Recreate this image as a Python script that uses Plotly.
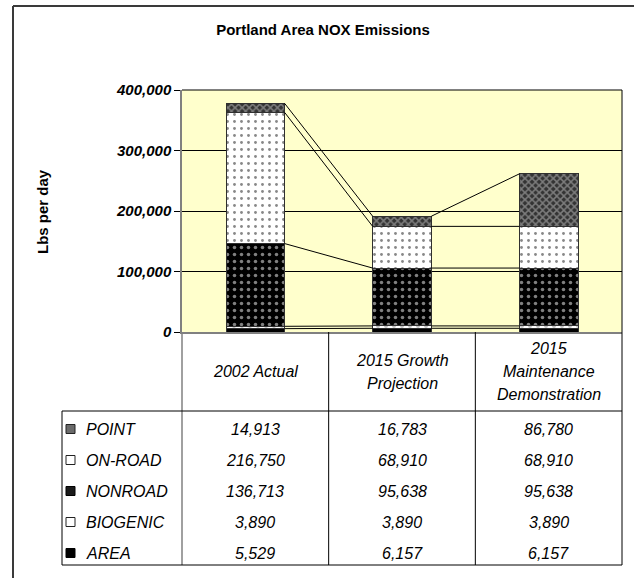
import plotly.graph_objects as go
import numpy as np

# ---- data ----
categories = ["2002 Actual", "2015 Growth<br>Projection", "2015<br>Maintenance<br>Demonstration"]
series_names = ["AREA", "BIOGENIC", "NONROAD", "ON-ROAD", "POINT"]  # bottom -> top
area = [5529, 6157, 6157]
biogenic = [3890, 3890, 3890]
nonroad = [136713, 95638, 95638]
onroad = [216750, 68910, 68910]
point = [14913, 16783, 86780]
y_ticks = [0, 100000, 200000, 300000, 400000]

series_values = [area, biogenic, nonroad, onroad, point]

# ---- layout geometry (pixels) ----
W, H = 634, 578
L, R, T, B = 182, 622, 90, 332
FONT = "Arial, Liberation Sans, Helvetica, sans-serif"


def px(x):
    return (x - L) / (R - L)


def py(y):
    return (B - y) / (B - T)


styles = {
    "AREA": dict(shape=".", bgcolor="#000000", fgcolor="#555555", size=8, solidity=0.15),
    "BIOGENIC": dict(shape=".", bgcolor="#ffffff", fgcolor="#888888", size=8, solidity=0.2),
    "NONROAD": dict(shape=".", bgcolor="#000000", fgcolor="#ffffff", size=7, solidity=0.2),
    "ON-ROAD": dict(shape=".", bgcolor="#ffffff", fgcolor="#111111", size=7, solidity=0.13),
    "POINT": dict(shape="x", bgcolor="#333333", fgcolor="#c8c8c8", size=5, solidity=0.5),
}

xs = np.arange(len(categories))
bar_w = 0.4

fig = go.Figure()

# series lines (connect cumulative tops between bars)
cum = np.cumsum(np.array(series_values, dtype=float), axis=0)
lx, ly = [], []
for j in range(cum.shape[0]):
    for i in range(len(xs) - 1):
        lx += [xs[i] + bar_w / 2, xs[i + 1] - bar_w / 2, None]
        ly += [cum[j][i], cum[j][i + 1], None]
fig.add_trace(go.Scatter(x=lx, y=ly, mode="lines", line=dict(color="#000000", width=1),
                         hoverinfo="skip", showlegend=False))

for name, vals in zip(series_names, series_values):
    fig.add_trace(go.Bar(
        x=xs, y=vals, name=name, width=bar_w,
        marker=dict(color=styles[name]["bgcolor"], pattern=styles[name],
                    line=dict(color="#303030", width=1)),
        showlegend=False,
    ))

shapes = []
# outer border
shapes.append(dict(type="line", xref="paper", yref="paper", x0=px(13), x1=px(660), y0=py(6), y1=py(6),
                   line=dict(color="#3a3a3a", width=2)))
shapes.append(dict(type="line", xref="paper", yref="paper", x0=px(13), x1=px(13), y0=py(6), y1=py(600),
                   line=dict(color="#3a3a3a", width=2)))
# plot frame top/right
shapes.append(dict(type="line", xref="paper", yref="paper", x0=0, x1=1, y0=1, y1=1,
                   line=dict(color="#000000", width=1)))
shapes.append(dict(type="line", xref="paper", yref="paper", x0=1, x1=1, y0=0, y1=1,
                   line=dict(color="#000000", width=1)))
# table lines
tab_top, hdr_bot, tab_bot, leg_left = py(B), py(411), py(565), px(62)
shapes.append(dict(type="line", xref="paper", yref="paper", x0=0, x1=0, y0=tab_top, y1=tab_bot,
                   line=dict(color="#808080", width=1.5)))
for i in range(len(xs) - 1):
    xb = (xs[i] + xs[i + 1]) / 2
    shapes.append(dict(type="line", xref="x", yref="paper", x0=xb, x1=xb, y0=tab_top, y1=tab_bot,
                       line=dict(color="#000000", width=1)))
shapes.append(dict(type="line", xref="paper", yref="paper", x0=1, x1=1, y0=tab_top, y1=tab_bot,
                   line=dict(color="#000000", width=1)))
shapes.append(dict(type="line", xref="paper", yref="paper", x0=leg_left, x1=leg_left, y0=hdr_bot, y1=tab_bot,
                   line=dict(color="#000000", width=1)))
shapes.append(dict(type="line", xref="paper", yref="paper", x0=leg_left, x1=1, y0=hdr_bot, y1=hdr_bot,
                   line=dict(color="#000000", width=1)))
shapes.append(dict(type="line", xref="paper", yref="paper", x0=leg_left, x1=1, y0=tab_bot, y1=tab_bot,
                   line=dict(color="#000000", width=1)))

annotations = []
TXT = dict(family=FONT, size=16, color="#000", style="italic")
# y-axis title
annotations.append(dict(text="<b>Lbs per day</b>", xref="paper", yref="paper", x=px(42), y=py(212),
                        xanchor="center", yanchor="middle",
                        textangle=-90, showarrow=False, font=dict(family=FONT, size=15, color="#000")))
# header labels (each line placed separately)
hdr_mid, hdr_lh = 371.5, 23
for i, c in enumerate(categories):
    parts = c.split("<br>")
    n = len(parts)
    for k, part in enumerate(parts):
        yline = hdr_mid + (k - (n - 1) / 2) * hdr_lh
        annotations.append(dict(text=part, xref="x", yref="paper", x=xs[i], y=py(yline), showarrow=False,
                                xanchor="center", yanchor="middle", font=TXT))

# table rows (top -> bottom order: POINT ... AREA)
legend_icon = {
    "POINT": ("#6a6a6a", "#222"),
    "ON-ROAD": ("#ffffff", "#222"),
    "NONROAD": ("#1a1a1a", "#000"),
    "BIOGENIC": ("#ffffff", "#222"),
    "AREA": ("#000000", "#000"),
}
row_first, row_step = 429, 31
for r, (name, vals) in enumerate(reversed(list(zip(series_names, series_values)))):
    yc = row_first + row_step * r
    annotations.append(dict(text=name, xref="paper", yref="paper", x=px(84), y=py(yc), xanchor="left",
                            yanchor="middle", showarrow=False, font=TXT))
    fill, edge = legend_icon[name]
    shapes.append(dict(type="rect", xref="paper", yref="paper", x0=px(66), x1=px(75), y0=py(yc - 4.5),
                       y1=py(yc + 4.5), fillcolor=fill, line=dict(color=edge, width=1)))
    for i, v in enumerate(vals):
        annotations.append(dict(text=f"{v:,}", xref="x", yref="paper", x=xs[i], y=py(yc), showarrow=False,
                                xanchor="center", yanchor="middle", font=TXT))

fig.update_layout(
    width=W, height=H,
    margin=dict(l=L, r=W - R, t=T, b=H - B, pad=0),
    paper_bgcolor="#ffffff",
    plot_bgcolor="#ffffcc",
    barmode="stack",
    title=dict(text="<b>Portland Area NOX Emissions</b>", x=323 / W, y=1 - 30 / H,
               xref="container", yref="container", xanchor="center", yanchor="middle",
               font=dict(family=FONT, size=15, color="#000")),
    xaxis=dict(range=[-0.5, 2.5], showticklabels=False, ticks="", showgrid=False, zeroline=False,
               showline=True, linecolor="#808080", linewidth=1.5, fixedrange=True),
    yaxis=dict(range=[0, 400000], tickvals=y_ticks, tickformat=",d", ticks="outside", ticklen=6,
               tickcolor="#000", showgrid=True, gridcolor="#000000", gridwidth=1, zeroline=False,
               showline=True, linecolor="#808080", linewidth=1.5,
               tickfont=dict(family=FONT, size=15, color="#000", weight="bold", style="italic")),
    shapes=shapes,
    annotations=annotations,
    showlegend=False,
)

fig.write_html("out.html", config={"displayModeBar": False},
               post_script="document.body.style.margin='0px';")
